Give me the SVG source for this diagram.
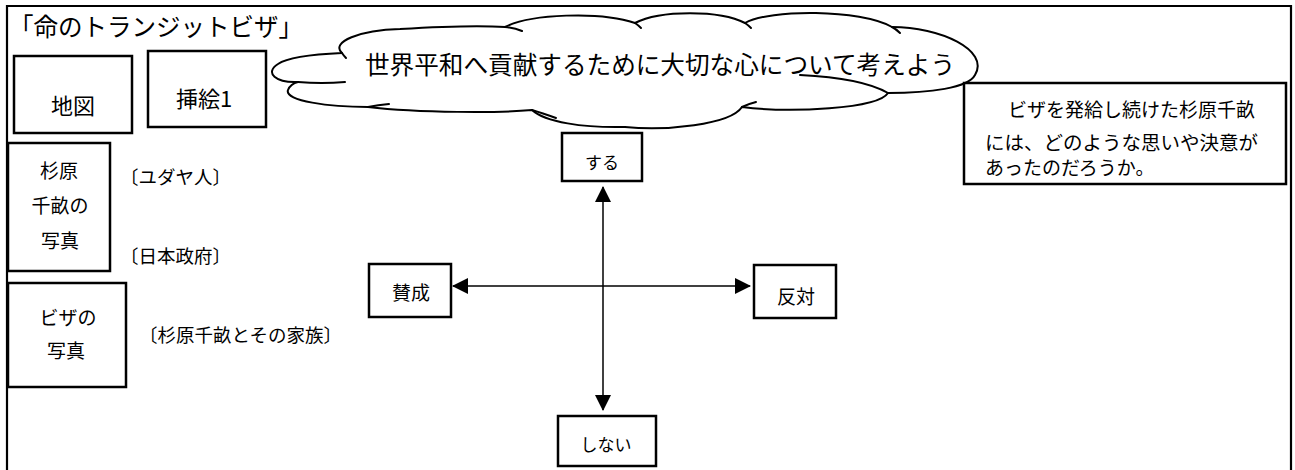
<svg xmlns="http://www.w3.org/2000/svg" width="1295" height="470" viewBox="0 0 1295 470">
<style>
  .box { fill: #fff; stroke: #000; stroke-width: 2.5; }
  .t { font-family: "Noto Sans CJK JP", "Noto Sans", sans-serif; fill: #000; }
  .c { text-anchor: middle; }
  .cloud { fill: #fff; stroke: #000; stroke-width: 2; stroke-linejoin: round; }
  .hook { fill: none; stroke: #000; stroke-width: 2; stroke-linecap: round; }
  .conn { stroke: #000; stroke-width: 1.5; fill: none; }
</style>
<defs>
  <marker id="ah" viewBox="0 0 16 16" refX="15" refY="8" markerWidth="16" markerHeight="16" markerUnits="userSpaceOnUse" orient="auto-start-reverse">
    <path d="M0,0 L16,8 L0,16 Z" fill="#000"/>
  </marker>
</defs>
<rect width="1295" height="470" fill="#fff"/>
<path d="M7,472 V6 H1291 V472" fill="none" stroke="#000" stroke-width="2.2"/>
<g id="title">
  <text class="t" x="9" y="36" font-size="24.5">「命のトランジットビザ」</text>
</g>
<g id="map">
  <rect class="box" x="14" y="56" width="118" height="77"/>
  <text class="t c" x="73" y="114" font-size="22">地図</text>
</g>
<g id="illust1">
  <rect class="box" x="148" y="51" width="118" height="76"/>
  <text class="t c" x="204" y="107" font-size="22">挿絵1</text>
</g>
<g id="cloud">
  <path class="cloud" d="M298,82 C276,83 264,73 278,64 C288,57 320,54 342,53 C330,42 360,30 400,29 C450,26 490,26 505,27 C530,14 600,11 635,23 C660,10 720,10 745,23 C770,9 860,9 892,27 C940,27 990,50 975,75 C968,88 930,93 888,93 C878,109 790,113 742,107 C730,125 665,131 625,127 C583,128 545,122 532,110 C500,113 420,113 368,107 C330,107 284,101 288,90 C290,85 294,83 298,82 Z"/>
  <path class="hook" d="M298,82 Q322,84 345,82"/>
  <path class="hook" d="M342,53 Q344,56 346,58"/>
  <path class="hook" d="M505,27 Q515,28 522,31"/>
  <path class="hook" d="M635,23 Q638,25 641,28"/>
  <path class="hook" d="M745,23 Q748,25 751,28"/>
  <path class="hook" d="M892,27 Q896,29 900,33"/>
  <path class="hook" d="M800,75 Q862,78 888,93"/>
  <path class="hook" d="M742,107 Q748,104 756,102"/>
  <path class="hook" d="M532,110 Q542,113 556,118"/>
  <path class="hook" d="M368,107 Q378,105 389,104"/>
  <text class="t" x="365" y="74" font-size="24.5" textLength="590" lengthAdjust="spacingAndGlyphs">世界平和へ貢献するために大切な心について考えよう</text>
</g>
<g id="question">
  <rect class="box" x="964" y="83" width="322" height="101"/>
  <text class="t" x="989" y="117" font-size="19">　ビザを発給し続けた杉原千畝</text>
  <text class="t" x="985" y="150" font-size="19" textLength="273" lengthAdjust="spacingAndGlyphs">には、どのような思いや決意が</text>
  <text class="t" x="985" y="175" font-size="19">あったのだろうか。</text>
</g>
<g id="sugihara-photo">
  <rect class="box" x="8" y="143" width="102" height="128"/>
  <text class="t c" x="59" y="178" font-size="19">杉原</text>
  <text class="t c" x="60" y="213" font-size="19">千畝の</text>
  <text class="t c" x="60" y="248" font-size="19">写真</text>
</g>
<g id="label-jews">
  <text class="t" x="120" y="184" font-size="18.5">〔ユダヤ人〕</text>
</g>
<g id="label-gov">
  <text class="t" x="120" y="263" font-size="18.5">〔日本政府〕</text>
</g>
<g id="visa-photo">
  <rect class="box" x="8" y="283" width="118" height="104"/>
  <text class="t c" x="68" y="325" font-size="19">ビザの</text>
  <text class="t c" x="66" y="358" font-size="19">写真</text>
</g>
<g id="label-family">
  <text class="t" x="139" y="342" font-size="18.5">〔杉原千畝とその家族〕</text>
</g>
<g id="connectors">
  <line class="conn" x1="603" y1="187" x2="603" y2="410" marker-start="url(#ah)" marker-end="url(#ah)"/>
  <line class="conn" x1="453" y1="286" x2="750" y2="286" marker-start="url(#ah)" marker-end="url(#ah)"/>
</g>
<g id="node-suru">
  <rect class="box" x="562" y="133" width="80" height="48"/>
  <text class="t c" x="602" y="169" font-size="17">する</text>
</g>
<g id="node-sansei">
  <rect class="box" x="369" y="264" width="82" height="53"/>
  <text class="t c" x="411" y="300" font-size="19">賛成</text>
</g>
<g id="node-hantai">
  <rect class="box" x="754" y="265" width="82" height="53"/>
  <text class="t c" x="796" y="304" font-size="19">反対</text>
</g>
<g id="node-shinai">
  <rect class="box" x="558" y="416" width="98" height="50"/>
  <text class="t c" x="606" y="451" font-size="17">しない</text>
</g>
</svg>
